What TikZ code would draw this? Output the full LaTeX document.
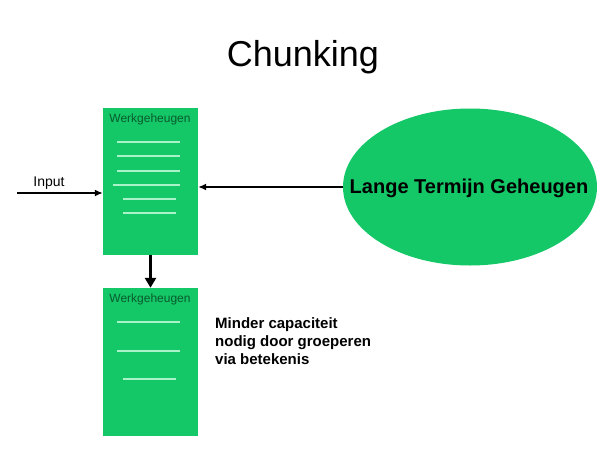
\documentclass[tikz,border=0pt]{standalone}
\usepackage{fontspec}
\setmainfont{Liberation Sans}
\usetikzlibrary{shapes.geometric,arrows.meta,calc}
\definecolor{boxgreen}{RGB}{20,200,104}
\definecolor{linegreen}{RGB}{170,242,200}
\definecolor{labelgreen}{RGB}{10,90,45}
\tikzset{
  wgbox/.style={rectangle, fill=boxgreen, draw=none, minimum width=95pt, inner sep=0pt},
  wglabel/.style={font=\fontsize{12}{14}\selectfont, text=labelgreen, inner sep=0pt},
  rule/.style={draw=linegreen, line width=1.1pt},
  conn/.style={draw=black, line width=1.5pt, -{Latex[length=8pt,width=7pt]}},
}
\begin{document}
\begin{tikzpicture}[x=1pt,y=-1pt]
\useasboundingbox[fill=white] (0,0) rectangle (608,455);
% title
\node[font=\fontsize{36}{40}\selectfont, inner sep=0pt] (title) at (303,57) {Chunking};
% working memory boxes
\node[wgbox, minimum height=147pt] (wg1) at (150.5,181.5) {};
\node[wgbox, minimum height=148pt] (wg2) at (150.5,362) {};
\node[wglabel] (wg1label) at (150,119) {Werkgeheugen};
\node[wglabel] (wg2label) at (150,299) {Werkgeheugen};
% rules in top box
\draw[rule] (117,142) -- (180,142);
\draw[rule] (117,156) -- (180,156);
\draw[rule] (117,171) -- (180,171);
\draw[rule] (113,185) -- (180,185);
\draw[rule] (123,199) -- (176,199);
\draw[rule] (123,213) -- (176,213);
% rules in bottom box
\draw[rule] (117,322) -- (180,322);
\draw[rule] (117,351) -- (180,351);
\draw[rule] (123,379) -- (176,379);
% long-term memory
\node[ellipse, fill=boxgreen, draw=none, minimum width=254pt, minimum height=157pt, inner sep=0pt] (ltm) at (470,187) {};
\node[font=\bfseries\fontsize{20}{24}\selectfont, inner sep=0pt] (ltmlabel) at (469,188) {Lange Termijn Geheugen};
% input
\coordinate (in) at (17,193);
\node[font=\fontsize{14}{16}\selectfont, inner sep=0pt] (inputlabel) at (49,183) {Input};
\draw[conn] (in) -- (in -| wg1.west);
% ltm to working memory
\draw[conn] (ltm.west) -- (ltm.west -| wg1.east);
% down arrow
\draw[draw=black, line width=3pt, -{Triangle[length=10pt,width=11pt]}] (wg1.south) -- (wg2.north);
% note
\node[font=\bfseries\fontsize{15}{18}\selectfont, align=left, anchor=north west, inner sep=0pt] (note) at (215,317)
  {Minder capaciteit\\nodig door groeperen\\via betekenis};
\end{tikzpicture}
\end{document}
